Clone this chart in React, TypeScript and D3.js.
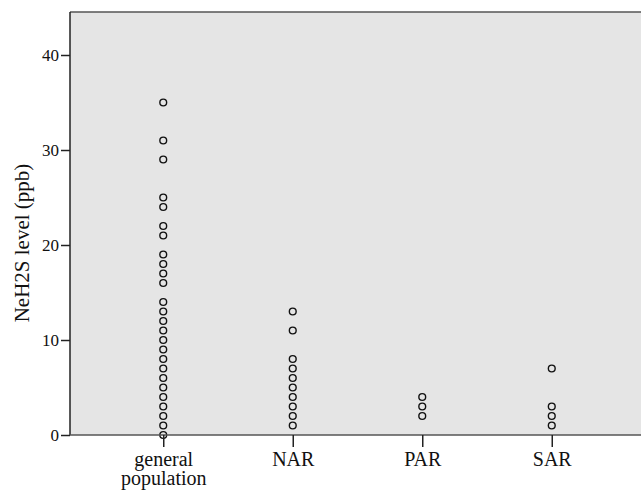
import React, { useEffect, useRef } from "react";
import * as d3 from "d3";

const W = 641;
const H = 491;
const margin = { left: 70, top: 12, bottom: 56 };

const groups = ["general population", "NAR", "PAR", "SAR"];
const generalPopulation = [35, 31, 29, 25, 24, 22, 21, 19, 18, 17, 16, 14, 13, 12, 11, 10, 9, 8, 7, 6, 5, 4, 3, 2, 1, 0];
const nar = [13, 11, 8, 7, 6, 5, 4, 3, 2, 1];
const par = [4, 3, 2];
const sar = [7, 3, 2, 1];
const yTicks = [0, 10, 20, 30, 40];

const series = [generalPopulation, nar, par, sar];

const App = () => {
  const ref = useRef<SVGSVGElement>(null);

  useEffect(() => {
    const svg = d3.select(ref.current);
    svg.selectAll("*").remove();

    const bottom = H - margin.bottom;
    const y = d3.scaleLinear().domain([0, 40]).range([bottom, 55]);
    const x = d3
      .scalePoint<string>()
      .domain(groups)
      .range([margin.left, 645])
      .padding(0.72);

    svg
      .append("rect")
      .attr("x", margin.left)
      .attr("y", margin.top)
      .attr("width", W - margin.left)
      .attr("height", bottom - margin.top)
      .attr("fill", "#e5e5e5");

    // top frame line
    svg
      .append("line")
      .attr("x1", margin.left)
      .attr("x2", W)
      .attr("y1", margin.top)
      .attr("y2", margin.top)
      .attr("stroke", "#555")
      .attr("stroke-width", 1.5);

    const pts = series.flatMap((vals, i) => vals.map((v) => ({ g: groups[i], v })));
    svg
      .append("g")
      .selectAll("circle")
      .data(pts)
      .join("circle")
      .attr("cx", (d) => x(d.g)!)
      .attr("cy", (d) => y(d.v))
      .attr("r", 3.4)
      .attr("fill", "none")
      .attr("stroke", "#111")
      .attr("stroke-width", 1.4);

    const yAxis = d3.axisLeft(y).tickValues(yTicks).tickSize(9).tickPadding(2);
    svg
      .append("g")
      .attr("transform", `translate(${margin.left},0)`)
      .call(yAxis)
      .call((g) => g.select(".domain").attr("d", `M0,${margin.top}V${bottom}`).attr("stroke", "#222").attr("stroke-width", 1.5))
      .call((g) => g.selectAll(".tick line").attr("stroke", "#222").attr("stroke-width", 1.5))
      .call((g) =>
        g
          .selectAll(".tick text")
          .attr("font-family", "Liberation Serif")
          .attr("font-size", 17)
          .attr("fill", "#111")
      );

    const xAxis = d3.axisBottom(x).tickSize(12).tickFormat(() => "");
    svg
      .append("g")
      .attr("transform", `translate(0,${bottom})`)
      .call(xAxis)
      .call((g) => g.select(".domain").attr("d", `M${margin.left},0H${W}`).attr("stroke", "#555").attr("stroke-width", 1.5))
      .call((g) => g.selectAll(".tick line").attr("stroke", "#222").attr("stroke-width", 1.5))
      .call((g) =>
        g
          .selectAll(".tick")
          .append("text")
          .attr("text-anchor", "middle")
          .attr("font-family", "Liberation Serif")
          .attr("font-size", 20)
          .attr("fill", "#111")
          .selectAll("tspan")
          .data((d) => (d as string).split(" "))
          .join("tspan")
          .attr("x", 0)
          .attr("y", (_, i) => 31 + i * 19)
          .text((t) => t)
      );

    svg
      .append("text")
      .attr("transform", `translate(29,243) rotate(-90)`)
      .attr("text-anchor", "middle")
      .attr("font-family", "Liberation Serif")
      .attr("font-size", 21)
      .attr("fill", "#111")
      .text("NeH2S level (ppb)");
  }, []);

  return (
    <svg
      ref={ref}
      width={W}
      height={H}
      style={{ display: "block", position: "absolute", left: 0, top: 0 }}
    />
  );
};

export default App;
